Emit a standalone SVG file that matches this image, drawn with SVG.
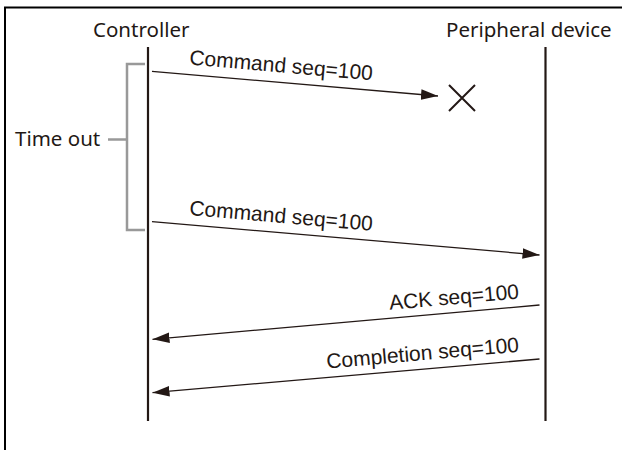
<svg xmlns="http://www.w3.org/2000/svg" width="622" height="450" viewBox="0 0 622 450">
<style>
.hdr{font-family:"Noto Sans","Open Sans",sans-serif;font-size:20.5px;fill:#231815}
.lbl{font-family:"Liberation Sans",Arial,sans-serif;font-size:21px;fill:#231815}
.life{stroke:#231815;stroke-width:2.2;fill:none}
.msg{stroke:#231815;stroke-width:1.3;fill:none;marker-end:url(#ah)}
.brk{stroke:#999;stroke-width:2.5;fill:none}
</style>
<defs>
<marker id="ah" markerUnits="userSpaceOnUse" markerWidth="18" markerHeight="12" viewBox="0 0 18 12" refX="17" refY="6" orient="auto">
<path d="M0,0.8 L17,6 L0,11.2 Z" fill="#231815"/>
</marker>
</defs>
<rect width="622" height="450" fill="#fff"/>
<path d="M4,7.5 H622 M5,6.5 V450" stroke="#000" stroke-width="2" fill="none"/>
<g id="controller">
<text class="hdr" x="93" y="36.5">Controller</text>
<line class="life" x1="148" y1="47" x2="148" y2="421"/>
</g>
<g id="peripheral">
<text class="hdr" x="446" y="36.5">Peripheral device</text>
<line class="life" x1="545.5" y1="47" x2="545.5" y2="421"/>
</g>
<g id="timeout">
<text class="hdr" x="15" y="146">Time out</text>
<path class="brk" d="M108,139.5 H127 M145,64 H127 V230 H145"/>
</g>
<g id="lost">
<path d="M449,85 L475,111 M475,85 L449,111" stroke="#231815" stroke-width="2" fill="none"/>
</g>
<g id="connectors">
<line class="msg" x1="152" y1="71.3" x2="438" y2="96"/>
<line class="msg" x1="152" y1="221.7" x2="539.5" y2="255"/>
<line class="msg" x1="539.5" y1="305" x2="152.5" y2="339.3"/>
<line class="msg" x1="539.5" y1="359" x2="152.5" y2="392.7"/>
<text class="lbl" transform="translate(189,64.5) rotate(4.9)">Command seq=100</text>
<text class="lbl" transform="translate(189,215) rotate(4.9)">Command seq=100</text>
<text class="lbl" text-anchor="end" transform="translate(519.5,298.5) rotate(-5)">ACK seq=100</text>
<text class="lbl" text-anchor="end" transform="translate(519.5,351.7) rotate(-5)">Completion seq=100</text>
</g>
</svg>
